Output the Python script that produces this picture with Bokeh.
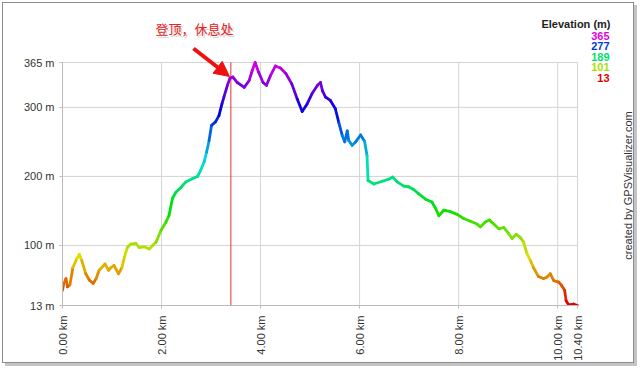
import colorsys
from math import pi

from bokeh.plotting import figure
from bokeh.models import (Range1d, FixedTicker, PrintfTickFormatter, Label,
                          Arrow, NormalHead, ColumnDataSource, InlineStyleSheet)
from bokeh.transform import linear_cmap
from bokeh.embed import file_html
from bokeh.resources import INLINE

# ---------------- data ----------------
dist_km = [0.00, 0.02, 0.07, 0.10, 0.15, 0.21, 0.29, 0.34, 0.39, 0.47,
           0.54, 0.62, 0.68, 0.74, 0.86, 0.93, 0.98, 1.04, 1.13, 1.20,
           1.25, 1.31, 1.38, 1.48, 1.55, 1.65, 1.75, 1.82, 1.89, 1.99,
           2.09, 2.15, 2.22, 2.29, 2.39, 2.49, 2.63, 2.73, 2.79, 2.86,
           2.91, 2.96, 3.01, 3.09, 3.16, 3.22, 3.26, 3.33, 3.38, 3.44,
           3.53, 3.67, 3.77, 3.83, 3.89, 3.96, 4.05, 4.12, 4.20, 4.30,
           4.40, 4.51, 4.63, 4.74, 4.84, 4.94, 5.04, 5.15, 5.21, 5.25,
           5.31, 5.41, 5.51, 5.58, 5.65, 5.70, 5.75, 5.78, 5.85, 5.92,
           6.02, 6.10, 6.15, 6.17, 6.29, 6.46, 6.59, 6.67, 6.76, 6.89,
           6.99, 7.09, 7.19, 7.33, 7.46, 7.54, 7.60, 7.70, 7.83, 7.97,
           8.10, 8.24, 8.37, 8.44, 8.54, 8.62, 8.71, 8.81, 8.91, 9.01,
           9.08, 9.16, 9.24, 9.31, 9.38, 9.45, 9.51, 9.61, 9.71, 9.78,
           9.85, 9.92, 10.02, 10.08, 10.14, 10.17, 10.22, 10.32, 10.40]

elev_m = [35, 43, 52, 40, 43, 68, 81, 87, 78, 59,
          50, 45, 52, 64, 73, 64, 68, 71, 59, 68,
          83, 97, 102, 103, 97, 98, 95, 100, 105, 122,
          134, 143, 168, 177, 184, 192, 197, 200, 209, 221,
          235, 252, 274, 279, 288, 305, 315, 332, 342, 344,
          336, 329, 339, 353, 365, 351, 336, 332, 346, 360,
          357, 349, 334, 312, 294, 305, 320, 332, 336, 324,
          315, 310, 298, 278, 259, 250, 266, 252, 245, 250,
          260, 251, 230, 194, 189, 193, 196, 199, 192, 186,
          185, 181, 175, 167, 163, 153, 143, 151, 149, 145,
          139, 135, 131, 127, 134, 137, 131, 124, 126, 117,
          110, 116, 112, 105, 88, 78, 68, 55, 52, 54,
          59, 49, 47, 42, 35, 20, 14, 15, 13]

x_ticks = [0, 2, 4, 6, 8, 10, 10.4]
y_ticks = [13, 100, 200, 300, 365]
legend_values = [365, 277, 189, 101, 13]
legend_title = "Elevation (m)"
summit_km = 3.40
note_text = "登顶，休息处"
credit_text = "created by GPSVisualizer.com"

E_MIN, E_MAX = 13, 365
X_MAX = 10.4

# ---------------- colours ----------------
def hue_color(t):
    r, g, b = colorsys.hsv_to_rgb(t * 300 / 360, 1.0, 0.88)
    return "#%02x%02x%02x" % (int(r * 255), int(g * 255), int(b * 255))

palette = [hue_color(i / 255) for i in range(256)]

# ---------------- layout ----------------
W, H = 640, 368
ML, MB = 62, 63            # room for the axes
PLOT_W, PLOT_H = 515, 243  # size of the profile area (0-10.4 km, 13-365 m)
# The frame reaches to the top and right edges of the canvas so that the
# legend, note, arrow and credit (drawn outside the profile area) are not clipped.
FRAME_W, FRAME_H = W - ML, H - MB
x_end = X_MAX * FRAME_W / PLOT_W
y_end = E_MIN + (E_MAX - E_MIN) * FRAME_H / PLOT_H

p = figure(width=W, height=H, output_backend="svg", toolbar_location=None,
           x_range=Range1d(0, x_end), y_range=Range1d(E_MIN, y_end),
           min_border_left=ML, min_border_right=0,
           min_border_top=0, min_border_bottom=MB)
p.background_fill_color = "white"
p.border_fill_color = "white"
p.outline_line_color = None
p.xgrid.visible = False
p.ygrid.visible = False
p.stylesheets = [InlineStyleSheet(css="""
:host { position: relative; }
:host::after { content: ""; position: absolute; left: 2px; top: 2px;
  width: 630px; height: 359px; border: 1px solid #8c8c8c;
  box-shadow: 3px 3px 0 #c4c4c4; pointer-events: none; }
""")]

# page pixel -> data coordinate helpers (annotation placement only)
def dx(px):
    return (px - ML) * X_MAX / PLOT_W

def dy(py):
    return E_MIN + (FRAME_H - py) * (E_MAX - E_MIN) / PLOT_H

# ---------------- grid (limited to the profile area) ----------------
GRID = "#d4d4d4"
p.segment(x0=x_ticks, y0=[E_MIN] * len(x_ticks), x1=x_ticks, y1=[E_MAX] * len(x_ticks),
          line_color=GRID, line_width=1)
p.segment(x0=[0] * len(y_ticks), y0=y_ticks, x1=[X_MAX] * len(y_ticks), y1=y_ticks,
          line_color=GRID, line_width=1)

# summit marker
p.segment(x0=[summit_km], y0=[E_MIN], x1=[summit_km], y1=[E_MAX],
          line_color="#e53030", line_width=1)

# ---------------- profile line ----------------
src = ColumnDataSource(dict(
    x0=dist_km[:-1], x1=dist_km[1:], y0=elev_m[:-1], y1=elev_m[1:],
    mid=[(a + b) / 2 for a, b in zip(elev_m[:-1], elev_m[1:])]))
p.segment("x0", "y0", "x1", "y1", source=src, line_width=2.8, line_cap="round",
          line_color=linear_cmap("mid", palette, E_MIN, E_MAX))

# ---------------- axes ----------------
FONT = "Liberation Sans"
p.xaxis.ticker = FixedTicker(ticks=x_ticks)
p.xaxis.formatter = PrintfTickFormatter(format="%.2f km")
p.xaxis.major_label_orientation = pi / 2
p.xaxis.bounds = (0, X_MAX)
p.yaxis.ticker = FixedTicker(ticks=y_ticks)
p.yaxis.formatter = PrintfTickFormatter(format="%d m")
p.yaxis.bounds = (E_MIN, E_MAX)
for ax in (p.xaxis, p.yaxis):
    ax.axis_line_color = "#bbbbbb"
    ax.major_tick_line_color = "#bbbbbb"
    ax.minor_tick_line_color = None
    ax.major_tick_in = 0
    ax.major_tick_out = 3
    ax.major_label_text_font = FONT
    ax.major_label_text_font_size = "11px"
    ax.major_label_text_color = "#333333"
p.xaxis.major_label_standoff = 7
p.yaxis.major_label_standoff = 5

# ---------------- annotations ----------------
p.add_layout(Arrow(end=NormalHead(size=15, fill_color="#ee1111", line_color="#ee1111"),
                   x_start=dx(193), y_start=dy(48), x_end=dx(229), y_end=dy(76),
                   line_color="#ee1111", line_width=4))

p.add_layout(Label(x=dx(156.5), y=dy(29.5), text=note_text,
                   text_font="Noto Sans CJK SC", text_font_size="13px",
                   text_color="#aaaaaa", text_alpha=0.5,
                   text_align="left", text_baseline="middle"))
p.add_layout(Label(x=dx(155), y=dy(28), text=note_text,
                   text_font="Noto Sans CJK SC", text_font_size="13px",
                   text_color="#e82020", text_align="left", text_baseline="middle"))

p.add_layout(Label(x=dx(610), y=dy(23), text=legend_title, text_font=FONT,
                   text_font_style="bold", text_font_size="11px", text_color="#222222",
                   text_align="right", text_baseline="middle"))
for i, v in enumerate(legend_values):
    p.add_layout(Label(x=dx(609), y=dy(35 + i * 10.6), text=str(v), text_font=FONT,
                       text_font_style="bold", text_font_size="11px",
                       text_color=hue_color((v - E_MIN) / (E_MAX - E_MIN)),
                       text_align="right", text_baseline="middle"))

p.add_layout(Label(x=dx(627), y=dy(185), text=credit_text, angle=pi / 2,
                   text_font=FONT, text_font_size="11px", text_color="#333333",
                   text_align="center", text_baseline="middle"))

with open("out.html", "w", encoding="utf-8") as f:
    f.write(file_html(p, INLINE))
